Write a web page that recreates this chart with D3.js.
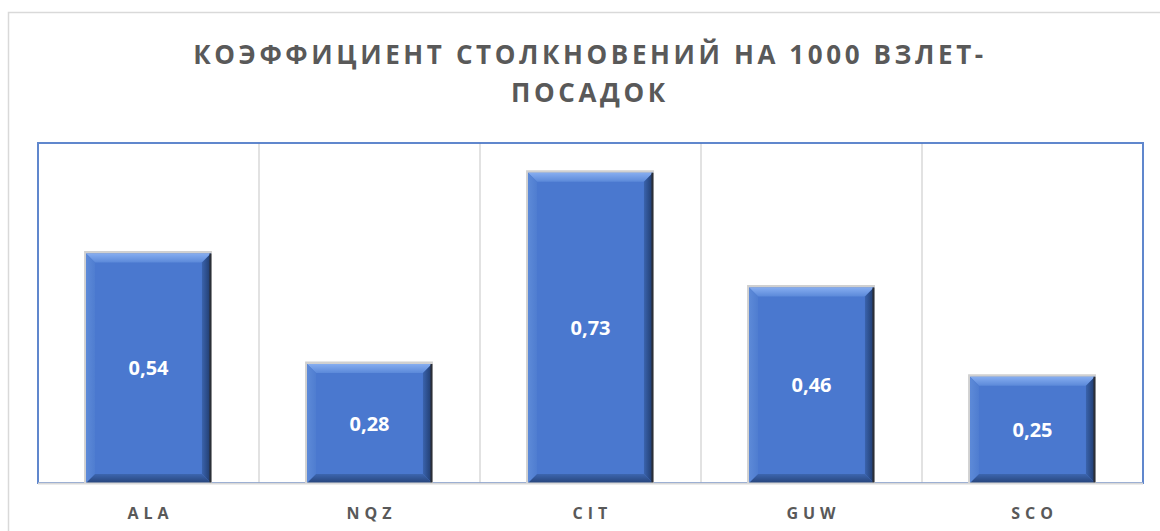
<!DOCTYPE html>
<html>
<head>
<meta charset="utf-8">
<script src="https://cdn.jsdelivr.net/npm/d3@7"></script>
<style>
  body { margin: 0; background: #fff; }
  svg { display: block; font-family: "Open Sans", "Noto Sans", sans-serif; }
</style>
</head>
<body>
<svg width="1160" height="531"></svg>
<script>
const svg = d3.select("svg");
const width = 1160;
const height = 531;

// data
const categories = ["ALA", "NQZ", "CIT", "GUW", "SCO"];
const values = [0.54, 0.28, 0.73, 0.46, 0.25];
const valueLabels = ["0,54", "0,28", "0,73", "0,46", "0,25"];
const titleLines = ["КОЭФФИЦИЕНТ СТОЛКНОВЕНИЙ НА 1000 ВЗЛЕТ-", "ПОСАДОК"];

const plot = { left: 38, top: 143, right: 1143, bottom: 483 };

// outer chart frame
svg.append("rect")
  .attr("x", 8.5).attr("y", 12.5)
  .attr("width", width).attr("height", height)
  .attr("fill", "none")
  .attr("stroke", "#d9d9d9")
  .attr("stroke-width", 1.5);

// title
svg.append("text")
  .attr("x", 590)
  .attr("text-anchor", "middle")
  .attr("fill", "#595959")
  .attr("font-size", 26)
  .attr("font-weight", 700)
  .attr("letter-spacing", 3.6)
  .selectAll("tspan")
  .data(titleLines)
  .join("tspan")
  .attr("x", 590)
  .attr("y", (d, i) => 64 + i * 38)
  .text(d => d);

const x = d3.scaleBand()
  .domain(categories)
  .range([plot.left, plot.right])
  .paddingInner(0.435)
  .paddingOuter(0.2175);

const y = d3.scaleLinear()
  .domain([0, 0.8])
  .range([plot.bottom, plot.top]);

// vertical gridlines between categories
const step = (plot.right - plot.left) / categories.length;
svg.append("g")
  .selectAll("line")
  .data(d3.range(1, categories.length))
  .join("line")
  .attr("x1", i => plot.left + i * step)
  .attr("x2", i => plot.left + i * step)
  .attr("y1", plot.top)
  .attr("y2", plot.bottom)
  .attr("stroke", "#d9d9d9")
  .attr("stroke-width", 1.5);

// plot area border
svg.append("rect")
  .attr("x", plot.left).attr("y", plot.top)
  .attr("width", plot.right - plot.left)
  .attr("height", plot.bottom - plot.top)
  .attr("fill", "none")
  .attr("stroke", "#4472c4")
  .attr("stroke-width", 2)
  .attr("opacity", 0.85);

// gradients for bevel
const defs = svg.append("defs");
function grad(id, x2, y2, c1, c2) {
  const g = defs.append("linearGradient").attr("id", id)
    .attr("x1", 0).attr("y1", 0).attr("x2", x2).attr("y2", y2);
  g.append("stop").attr("offset", "0%").attr("stop-color", c1);
  g.append("stop").attr("offset", "100%").attr("stop-color", c2);
}
grad("bevTop", 0, 1, "#86adf0", "#5b89d9");
grad("bevLeft", 1, 0, "#5d8ad8", "#4f7dd0");
grad("bevRight", 1, 0, "#3a63ad", "#1f3a6b");
grad("bevBottom", 0, 1, "#3d66b0", "#26447a");

const bev = 9;
const bars = svg.append("g")
  .selectAll("g")
  .data(values)
  .join("g")
  .attr("transform", (d, i) => `translate(${x(categories[i])},${y(d)})`);

// soft outline around the bar
bars.append("rect")
  .attr("x", -2).attr("y", -2.5)
  .attr("width", x.bandwidth() + 3)
  .attr("height", d => plot.bottom - y(d) + 2.5)
  .attr("fill", "#d0d0d0");

bars.append("rect")
  .attr("width", x.bandwidth())
  .attr("height", d => plot.bottom - y(d))
  .attr("fill", "#4a78cf");

const w = x.bandwidth();
bars.append("path")
  .attr("fill", "url(#bevTop)")
  .attr("d", `M0,0 L${w},0 L${w - bev},${bev} L${bev},${bev} Z`);
bars.append("path")
  .attr("fill", "url(#bevLeft)")
  .attr("d", d => { const h = plot.bottom - y(d); return `M0,0 L${bev},${bev} L${bev},${h - bev} L0,${h} Z`; });
bars.append("path")
  .attr("fill", "url(#bevRight)")
  .attr("d", d => { const h = plot.bottom - y(d); return `M${w},0 L${w},${h} L${w - bev},${h - bev} L${w - bev},${bev} Z`; });
bars.append("path")
  .attr("fill", "url(#bevBottom)")
  .attr("d", d => { const h = plot.bottom - y(d); return `M0,${h} L${bev},${h - bev} L${w - bev},${h - bev} L${w},${h} Z`; });
bars.append("rect")
  .attr("x", w - 1.5).attr("width", 2)
  .attr("height", d => plot.bottom - y(d))
  .attr("fill", "#2b2f38");

// value labels
bars.append("text")
  .attr("x", w / 2)
  .attr("y", d => (plot.bottom - y(d)) / 2)
  .attr("dy", "0.35em")
  .attr("text-anchor", "middle")
  .attr("fill", "#fff")
  .attr("font-size", 20)
  .attr("font-weight", 700)
  .text((d, i) => valueLabels[i]);

// category axis line
svg.append("line")
  .attr("x1", plot.left).attr("x2", plot.right)
  .attr("y1", plot.bottom + 0.5).attr("y2", plot.bottom + 0.5)
  .attr("stroke", "#d9d9d9")
  .attr("stroke-width", 2);

// category labels
svg.append("g")
  .selectAll("text")
  .data(categories)
  .join("text")
  .attr("x", d => x(d) + x.bandwidth() / 2 + 2)
  .attr("y", 519)
  .attr("text-anchor", "middle")
  .attr("fill", "#595959")
  .attr("font-size", 16)
  .attr("font-weight", 700)
  .attr("letter-spacing", 5)
  .text(d => d);
</script>
</body>
</html>
